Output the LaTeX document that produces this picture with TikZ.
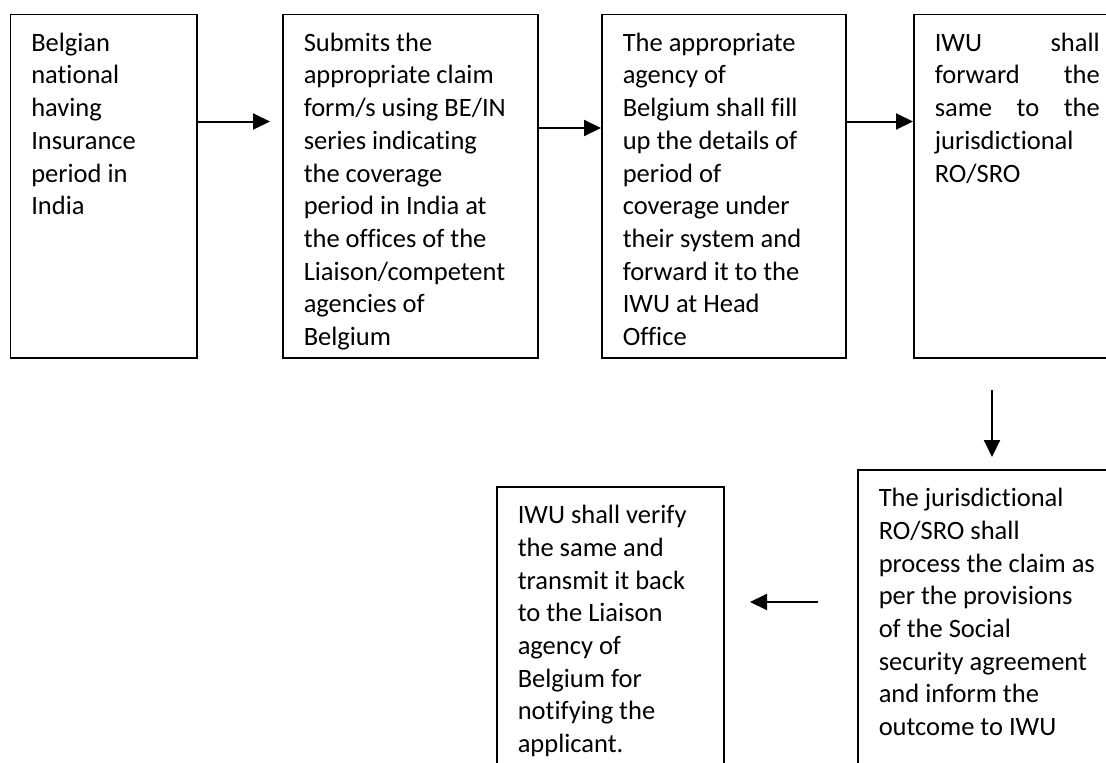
\documentclass[tikz,border=0pt]{standalone}
\usepackage{fontspec}
\setmainfont{Carlito}[Ligatures={NoCommon,NoContextual}, RawFeature={-liga;-calt;-clig}]
\usepackage{tikz}
\usetikzlibrary{arrows.meta}

% box contents: width, height, lines
\newcommand{\stagetext}[3]{%
    \parbox[c][#2pt][t]{#1pt}{\fontsize{26.5}{32.7}\selectfont\raggedright
        \leftskip=21pt\rule{0pt}{37pt}#3}}

\begin{document}
\begin{tikzpicture}[
        x=1pt, y=-1pt,
        stage/.style={draw, line width=1.5pt, anchor=north west, inner sep=0pt},
        flow/.style={line width=2pt, -{Triangle[length=17pt, width=16pt]}},
        >=Stealth]

        \clip (0,0) rectangle (1106,763);
        \fill[white] (0,0) rectangle (1106,763);

        % --- TOP ROW ---
        \node (s1) at (9.5,13.5) [stage]
            {\stagetext{186.5}{343.5}{Belgian\\national\\having\\Insurance\\period in\\India}};
        \node (s2) at (282,13.5) [stage]
            {\stagetext{255}{343.5}{Submits the\\appropriate claim\\form/s using BE/IN\\series indicating\\the coverage\\period in India at\\the offices of the\\Liaison/competent\\agencies of\\Belgium}};
        \node (s3) at (601,13.5) [stage]
            {\stagetext{244}{343.5}{The appropriate\\agency of\\Belgium shall fill\\up the details of\\period of\\coverage under\\their system and\\forward it to the\\IWU at Head\\Office}};
        \node (s4) at (913,13.5) [stage]
            {\stagetext{205}{343.5}{\rightskip=19pt IWU\hfill shall\\forward\hfill the\\same\hfill to\hfill the\\jurisdictional\\RO/SRO}};

        % Arrows between the top boxes
        \coordinate (a1) at (270,121.5);
        \coordinate (a2) at (0,128);
        \coordinate (a3) at (0,121.5);
        \draw[flow] (s1.east |- a1) -- (a1);
        \draw[flow] (s2.east |- a2) -- (s3.west |- a2);
        \draw[flow] (s3.east |- a3) -- (s4.west |- a3);

        % --- BOTTOM ROW ---
        \node (s5) at (857,469) [stage]
            {\stagetext{260}{320}{The jurisdictional\\RO/SRO shall\\process the claim as\\per the provisions\\of the Social\\security agreement\\and inform the\\outcome to IWU}};
        \node (s6) at (496,486) [stage]
            {\stagetext{227}{300}{IWU shall verify\\the same and\\transmit it back\\to the Liaison\\agency of\\Belgium for\\notifying the\\applicant.}};

        % Down arrow and back arrow
        \coordinate (d1) at (992,390);
        \coordinate (d2) at (992,457);
        \draw[flow] (d1) -- (d2);
        \coordinate (b1) at (818,602);
        \coordinate (b2) at (750,602);
        \draw[flow] (b1) -- (b2);

    \end{tikzpicture}
\end{document}
